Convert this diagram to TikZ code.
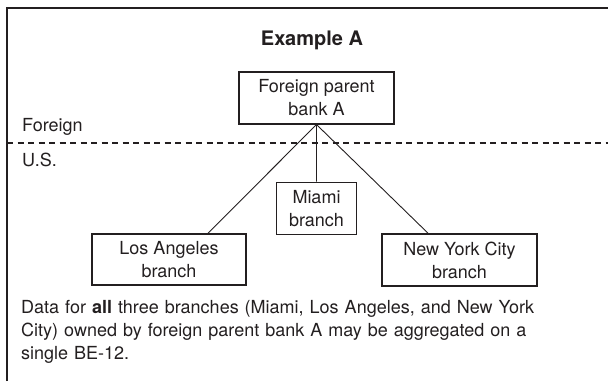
\documentclass[tikz,border=0pt]{standalone}
\usepackage{fontspec}
\setmainfont{TeX Gyre Heros}
\usetikzlibrary{positioning, calc}
\definecolor{ink}{RGB}{35,31,32}
\tikzset{
    x=1pt, y=1pt, % one unit is one pixel of the reference
    every node/.style={text=ink, inner sep=0pt, font=\fontsize{18}{23}\selectfont},
    bank/.style={draw=ink, line width=1.1pt, align=center, minimum width=155pt, minimum height=52pt}, % the boxes
    link/.style={draw=ink, line width=0.9pt}, % ownership lines
    border/.style={draw=ink, line width=2.5pt}, % frame of the example
    split/.style={draw=ink, line width=1.2pt, dash pattern=on 6pt off 4.5pt}, % Foreign / U.S. line
}
\begin{document}
\begin{tikzpicture}
            \useasboundingbox (0,0) rectangle (608,-381);
            \draw[border] (7,-381) -- (7,-8) -- (608,-8);

            \node[anchor=base, font=\fontsize{20}{24}\selectfont\bfseries] (title) at (312,-45) {Example A};

            \node[bank] (parent) at (316.5,-98) {Foreign parent\\bank A};
            \node[bank, minimum width=80pt, below=57pt of parent] (miami) {Miami\\branch};
            \node[bank, minimum width=154pt, minimum height=51pt] (la) at (169,-259.5) {Los Angeles\\branch};
            \node[bank] (nyc) at (459.5,-260) {New York City\\branch};

            % border between the countries
            \node[anchor=base west] (foreign) at (22,-131) {Foreign};
            \node[anchor=base west] (us) at (22,-166) {U.S.};
            \coordinate (westend) at (7,-143);
            \coordinate (eastend) at (608,-143);
            \draw[split] (westend) -- (eastend);

            \draw[link] (parent.south) -- (miami.north)
                        (parent.south) -- ($(la.north)!0.5!(la.north east)$)
                        (parent.south) -- ($(nyc.north west)!0.6!(nyc.north)$);

            \node[anchor=base west, text width=570pt, align=left] (note) at (21,-313)
                {Data for \textbf{all} three branches (Miami, Los Angeles, and New York\\
                 City) owned by foreign parent bank A may be aggregated on a\\
                 single BE-12.};
        \end{tikzpicture}
\end{document}
